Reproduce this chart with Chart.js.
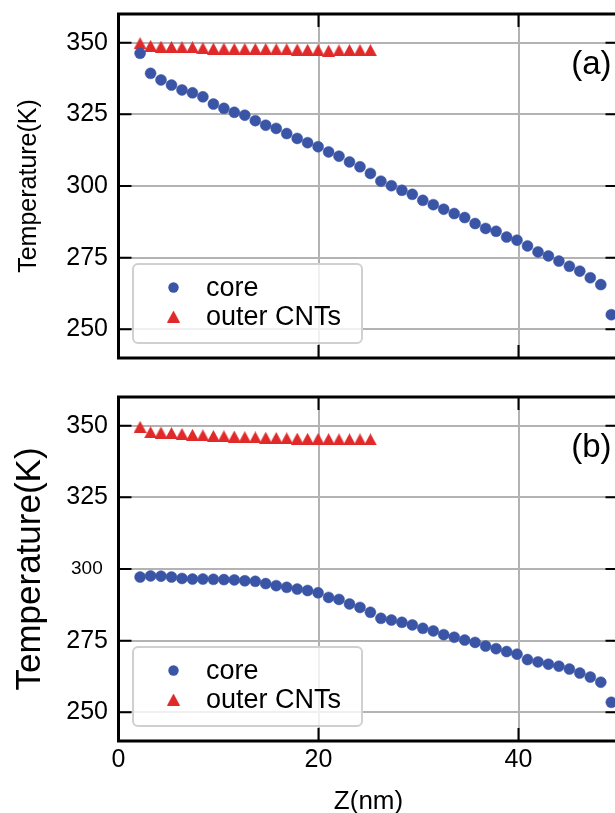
<!DOCTYPE html>
<html>
<head>
<meta charset="utf-8">
<script src="https://cdn.jsdelivr.net/npm/chart.js@4.4.1/dist/chart.umd.min.js"></script>
<style>
  html, body { margin: 0; padding: 0; background: #fff; overflow: hidden; width: 615px; height: 813px; }
  canvas { position: absolute; left: 0; }
  #chartA { top: 0; }
  #chartB { top: 380px; }
</style>
</head>
<body>
<canvas id="chartA" width="640" height="380"></canvas>
<canvas id="chartB" width="640" height="440"></canvas>
<script>
// positions along the wire, nm
const zPos = [
  2.16, 3.21, 4.25, 5.30, 6.35, 7.40, 8.44, 9.49, 10.54, 11.58,
  12.63, 13.68, 14.72, 15.77, 16.82, 17.87, 18.91, 19.96, 21.01, 22.05,
  23.10, 24.15, 25.19, 26.24, 27.29, 28.34, 29.38, 30.43, 31.48, 32.52,
  33.57, 34.62, 35.66, 36.71, 37.76, 38.81, 39.85, 40.90, 41.95, 42.99,
  44.04, 45.09, 46.13, 47.18, 48.23, 49.28
];

// panel (a)
const coreA = [
  346.3, 339.3, 337.0, 335.2, 333.5, 332.5, 331.1, 328.6, 327.1, 325.7,
  324.7, 322.8, 321.2, 320.1, 318.3, 316.6, 315.1, 313.7, 311.9, 310.4,
  308.4, 306.7, 304.4, 301.7, 300.1, 298.5, 297.1, 295.0, 293.5, 291.9,
  290.4, 289.0, 286.9, 285.2, 284.2, 282.2, 281.1, 279.1, 277.0, 275.6,
  273.8, 272.0, 270.3, 268.0, 265.6, 255.1
];
const outerA = [
  349.8, 348.9, 348.6, 348.5, 348.4, 348.4, 348.1, 347.9, 347.9, 347.8,
  347.8, 347.8, 347.8, 347.7, 347.7, 347.6, 347.5, 347.4, 347.2, 347.3,
  347.4, 347.4, 347.4
];

// panel (b)
const coreB = [
  297.2, 297.6, 297.5, 297.2, 296.7, 296.5, 296.5, 296.4, 296.3, 296.2,
  295.9, 295.7, 294.9, 294.2, 293.6, 293.0, 292.5, 291.7, 290.1, 289.4,
  287.8, 286.6, 284.9, 282.8, 282.2, 281.4, 280.5, 279.3, 278.4, 277.1,
  276.2, 275.2, 274.4, 273.1, 272.2, 271.2, 270.3, 268.4, 267.6, 266.8,
  266.1, 265.1, 263.7, 262.3, 260.5, 253.5
];
const outerB = [
  349.6, 347.7, 347.6, 347.4, 347.1, 346.8, 346.6, 346.4, 346.3, 346.2,
  346.0, 345.9, 345.8, 345.7, 345.6, 345.5, 345.4, 345.4, 345.3, 345.2,
  345.2, 345.2, 345.2
];

const yTicks = [250, 275, 300, 325, 350];
const xTicks = [0, 20, 40];
const seriesNames = ['core', 'outer CNTs'];
const panelTags = ['(a)', '(b)'];
const yTitle = 'Temperature(K)';
const xTitle = 'Z(nm)';

const FONT = '"Liberation Sans", Arial, Helvetica, sans-serif';
const BLUE = '#3b55a6';
const RED = '#e02a2a';
const GRID = '#b3b3b3';

// matplotlib-like '^' marker (as wide as it is tall)
function makeTriangle(color) {
  const c = document.createElement('canvas');
  c.width = 13; c.height = 12;
  const g = c.getContext('2d');
  g.fillStyle = color;
  g.beginPath();
  g.moveTo(6.5, 0); g.lineTo(13, 12); g.lineTo(0, 12);
  g.closePath(); g.fill();
  return c;
}
const triangle = makeTriangle(RED);

function toPoints(ys) {
  return ys.map((v, i) => ({ x: zPos[i], y: v }));
}

// inward ticks, black frame, legend box inside the axes, panel tag
const framePlugin = {
  id: 'frame',
  afterDatasetsDraw(chart, args, opts) {
    const { ctx, chartArea: a, scales } = chart;
    ctx.save();
    ctx.strokeStyle = '#000';
    ctx.lineWidth = 2;
    ctx.beginPath();
    scales.y.ticks.forEach(t => {
      const py = scales.y.getPixelForValue(t.value);
      ctx.moveTo(a.left, py); ctx.lineTo(a.left + 13, py);
      ctx.moveTo(a.right, py); ctx.lineTo(a.right - 13, py);
    });
    scales.x.ticks.forEach(t => {
      if (t.value <= scales.x.min) return;
      const px = scales.x.getPixelForValue(t.value);
      ctx.moveTo(px, a.bottom); ctx.lineTo(px, a.bottom - 13);
      ctx.moveTo(px, a.top); ctx.lineTo(px, a.top + 13);
    });
    ctx.stroke();
    ctx.lineWidth = 3;
    ctx.strokeRect(a.left, a.top, a.right - a.left, a.bottom - a.top);

    // legend
    const bw = 229, bh = 79;
    const bx = a.left + 14.5, by = a.bottom - 15 - bh;
    ctx.beginPath();
    if (ctx.roundRect) ctx.roundRect(bx, by, bw, bh, 5);
    else ctx.rect(bx, by, bw, bh);
    ctx.fillStyle = 'rgba(255,255,255,0.8)';
    ctx.fill();
    ctx.strokeStyle = '#d0d0d0';
    ctx.lineWidth = 2;
    ctx.stroke();
    chart.data.datasets.forEach((ds, i) => {
      const cy = by + 23.5 + i * 29;
      const cx = bx + 40.5;
      if (ds.pointStyle === 'circle') {
        ctx.fillStyle = ds.backgroundColor;
        ctx.beginPath(); ctx.arc(cx, cy, 5.2, 0, Math.PI * 2); ctx.fill();
      } else {
        ctx.drawImage(ds.pointStyle, cx - 6.5, cy - 6);
      }
      ctx.fillStyle = '#000';
      ctx.font = '27px ' + FONT;
      ctx.textAlign = 'left';
      ctx.textBaseline = 'middle';
      ctx.fillText(ds.label, bx + 73, cy + 1);
    });

    // panel tag
    ctx.fillStyle = '#000';
    ctx.font = '33px ' + FONT;
    ctx.textAlign = 'right';
    ctx.textBaseline = 'middle';
    ctx.fillText(opts.tag, a.right - 7, a.top + 51);
    ctx.restore();
  }
};

function makePanel(id, core, outer, tag, bottomPanel) {
  return new Chart(document.getElementById(id), {
    type: 'scatter',
    data: {
      datasets: [
        {
          label: seriesNames[0],
          data: toPoints(core),
          pointStyle: 'circle',
          pointRadius: 5.5,
          pointHoverRadius: 5.5,
          pointBorderWidth: 0.5,
          backgroundColor: BLUE,
          borderColor: BLUE
        },
        {
          label: seriesNames[1],
          data: toPoints(outer),
          pointStyle: triangle,
          pointRadius: 6,
          backgroundColor: RED,
          borderColor: RED
        }
      ]
    },
    options: {
      responsive: false,
      animation: false,
      devicePixelRatio: 1,
      layout: { padding: { top: bottomPanel ? 17 : 14, right: 21.5, bottom: 0, left: 0 } },
      plugins: {
        legend: { display: false },
        tooltip: { enabled: false },
        frame: { tag: tag }
      },
      scales: {
        x: {
          type: 'linear',
          min: 0,
          max: 50,
          afterBuildTicks: s => { s.ticks = xTicks.map(v => ({ value: v })); },
          afterFit: s => {
            s.height = bottomPanel ? 79 : 22;
            s.paddingLeft = 0; s.paddingRight = 0;
          },
          grid: { color: GRID, lineWidth: 2, drawTicks: false },
          border: { display: false },
          ticks: {
            display: bottomPanel,
            color: '#000',
            padding: 4,
            maxRotation: 0,
            autoSkip: false,
            font: { family: FONT, size: 25 }
          },
          title: {
            display: bottomPanel,
            text: xTitle,
            color: '#000',
            font: { family: FONT, size: 26 },
            padding: { top: 0, bottom: 3 }
          }
        },
        y: {
          type: 'linear',
          min: 240,
          max: 360,
          afterBuildTicks: s => { s.ticks = yTicks.map(v => ({ value: v })); },
          afterFit: s => {
            s.width = 118.5;
            s.paddingTop = 0; s.paddingBottom = 0;
          },
          grid: { color: GRID, lineWidth: 2, drawTicks: false },
          border: { display: false },
          ticks: {
            color: '#000',
            padding: 10.5,
            callback: v => (bottomPanel && v === 300) ? '300 ' : String(v),
            font: c => ({ family: FONT, size: (bottomPanel && c.tick && c.tick.value === 300) ? 19 : 25 })
          },
          title: {
            display: true,
            text: yTitle,
            color: '#000',
            font: { family: FONT, size: bottomPanel ? 35 : 25 },
            padding: { top: bottomPanel ? 9 : 14, bottom: 0 }
          }
        }
      }
    },
    plugins: [framePlugin]
  });
}

const chartA = makePanel('chartA', coreA, outerA, panelTags[0], false);
const chartB = makePanel('chartB', coreB, outerB, panelTags[1], true);
</script>
</body>
</html>
